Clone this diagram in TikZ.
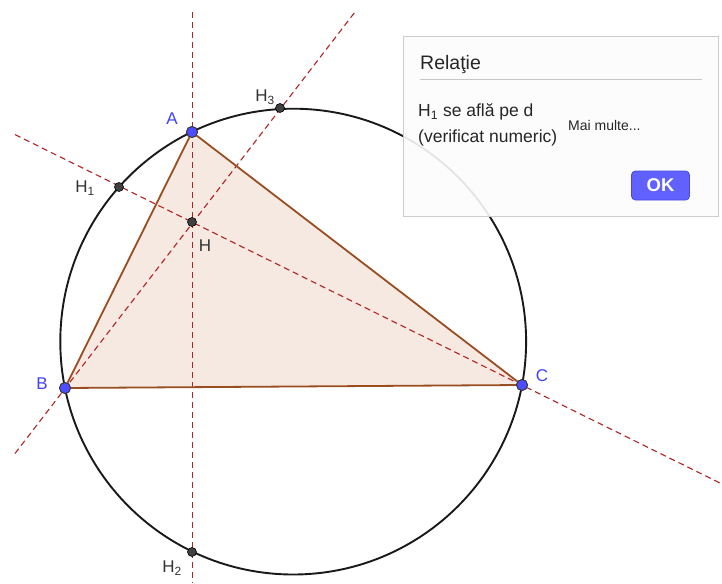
\documentclass[tikz,border=0pt]{standalone}
\usepackage{fontspec}
\setmainfont{Liberation Sans}
\usetikzlibrary{calc,shadows}
\definecolor{triedge}{RGB}{153,77,33}
\definecolor{trifill}{RGB}{245,233,226}
\definecolor{altline}{RGB}{178,34,34}
\definecolor{ptblue}{RGB}{77,77,255}
\definecolor{ptgray}{RGB}{64,64,64}
\definecolor{lblblue}{RGB}{64,64,255}
\definecolor{lblgray}{RGB}{51,51,51}
\definecolor{okfill}{RGB}{97,97,255}
\definecolor{okedge}{RGB}{72,72,220}
\tikzset{
  vertexpt/.style={circle,fill=ptblue,draw=black!80,line width=0.8pt,minimum size=11pt,inner sep=0pt},
  footpt/.style={circle,fill=ptgray,draw=black,line width=0.6pt,minimum size=9pt,inner sep=0pt},
  lblb/.style={text=lblblue,font=\fontsize{17}{20}\selectfont,inner sep=0pt},
  lblg/.style={text=lblgray,font=\fontsize{17}{20}\selectfont,inner sep=0pt},
  altitude/.style={draw=altline,line width=1.1pt,dash pattern=on 6pt off 4pt},
  sideline/.style={draw=triedge,line width=1.8pt},
  dlgtext/.style={text=black!85,font=\fontsize{17.5}{20}\selectfont,inner sep=0pt,anchor=base west},
}
\begin{document}
\begin{tikzpicture}[x=1pt,y=-1pt]
\useasboundingbox (0,0) rectangle (722,583);
% triangle fill
\fill[trifill] (192,132) -- (65,388) -- (522,385) -- cycle;
% circumcircle
\draw[black!90,line width=1.9pt] (293.2,341.6) circle[radius=232.9];
% altitudes
\coordinate (v1) at (192.5,12);
\coordinate (v2) at (192.5,583);
\coordinate (c1) at (15,134.6);
\coordinate (c2) at (722,484);
\coordinate (b1) at (15,453.5);
\coordinate (b2) at (355,12);
\draw[altitude] (v1) -- (v2);
\draw[altitude] (c1) -- (c2);
\draw[altitude] (b1) -- (b2);
% points
\node[vertexpt] (A) at (192,132) {};
\node[vertexpt] (B) at (65,388) {};
\node[vertexpt] (C) at (522,385) {};
\draw[sideline] (A) -- (B);
\draw[sideline] (B) -- (C);
\draw[sideline] (C) -- (A);
\node[vertexpt] at (A) {};
\node[vertexpt] at (B) {};
\node[vertexpt] at (C) {};
\node[footpt] (H) at (192,222) {};
\node[footpt] (H1) at (119,187) {};
\node[footpt] (H2) at (192,552) {};
\node[footpt] (H3) at (280,108) {};
% labels
\node[lblb] (lA) at (172,119) {A};
\node[lblb] (lB) at (42,384) {B};
\node[lblb] (lC) at (542,376) {C};
\node[lblg] (lH) at (205,246) {H};
\node[lblg] (lH1) at (85,188) {H\textsubscript{1}};
\node[lblg] (lH2) at (172,568) {H\textsubscript{2}};
\node[lblg] (lH3) at (265,97) {H\textsubscript{3}};
% dialog
\node[draw=black!20,line width=0.8pt,fill=white,fill opacity=0.88,draw opacity=1,
      minimum width=315pt,minimum height=180pt,anchor=north west,inner sep=0pt,
      drop shadow={shadow xshift=1pt,shadow yshift=-1pt,opacity=0.15}] (dlg) at (403,36) {};
\node[dlgtext,font=\fontsize{19.5}{22}\selectfont] (title) at (420,70) {Relaţie};
\draw[black!22,line width=0.8pt] (420,79) coordinate (s1) -- (702,79) coordinate (s2);
\node[dlgtext] (msg1) at (418,117) {H\textsubscript{1} se află pe d};
\node[dlgtext] (msg2) at (418,142) {(verificat numeric)};
\node[dlgtext,font=\fontsize{14}{16}\selectfont] (more) at (568,130) {Mai multe...};
\node[draw=okedge,fill=okfill,rounded corners=4pt,line width=0.8pt,minimum width=58pt,minimum height=29pt,inner sep=0pt,
      text=white,font=\bfseries\fontsize{18.5}{20}\selectfont] (ok) at (660.5,185.5) {OK};
\end{tikzpicture}
\end{document}
